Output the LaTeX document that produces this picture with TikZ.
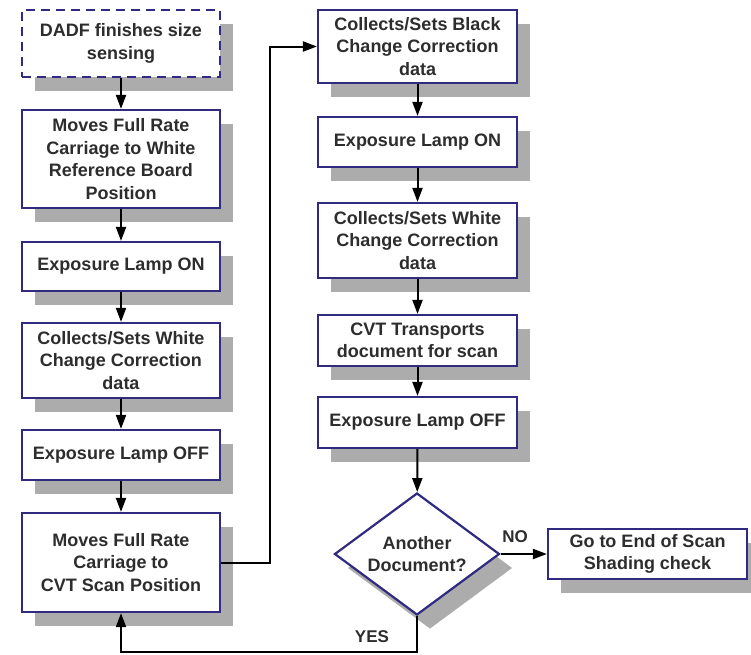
\documentclass[tikz,border=0pt]{standalone}
\usepackage{fontspec}
\setmainfont{Liberation Sans}
\usetikzlibrary{arrows.meta,shapes.geometric,shadows}

\definecolor{boxblue}{RGB}{48,42,128}
\definecolor{shadowgray}{RGB}{172,172,172}
\definecolor{textgray}{RGB}{45,45,45}

\begin{document}
\begin{tikzpicture}[
        x=1pt, y=-1pt,
        stepbox/.style={
            draw=boxblue,
            line width=2.2pt,
            fill=white,
            inner sep=0pt,
            align=center,
            text=textgray,
            font=\fontsize{18}{22.5}\selectfont\bfseries,
            drop shadow={shadow xshift=13pt, shadow yshift=-14pt,
                fill=shadowgray, opacity=1}
        },
        startbox/.style={
            stepbox,
            dash pattern=on 9pt off 6pt
        },
        decision/.style={
            stepbox,
            diamond,
            aspect=1.35
        },
        flow/.style={
            -{Triangle[length=14pt,width=10pt]},
            line width=2pt,
            black
        },
        answer/.style={
            text=textgray,
            font=\fontsize{17}{21}\selectfont\bfseries
        }
    ]

    \useasboundingbox (0,0) rectangle (751,654);

    % ---------------------------------------------------------
    % Left column
    % ---------------------------------------------------------
    \node[startbox, minimum width=198pt, minimum height=67pt] (dadf)
        at (121,43.5) {DADF finishes size\\sensing};
    \node[stepbox, minimum width=198pt, minimum height=98pt] (moveWhite)
        at (121,159) {Moves Full Rate\\Carriage to White\\Reference Board\\Position};
    \node[stepbox, minimum width=198pt, minimum height=49pt] (lampOnA)
        at (121,266.5) {Exposure Lamp ON};
    \node[stepbox, minimum width=198pt, minimum height=75pt] (whiteA)
        at (121,360.5) {Collects/Sets White\\Change Correction\\data};
    \node[stepbox, minimum width=198pt, minimum height=50pt] (lampOffA)
        at (121,455) {Exposure Lamp OFF};
    \node[stepbox, minimum width=198pt, minimum height=99pt] (moveCvt)
        at (121,562.5) {Moves Full Rate\\Carriage to\\CVT Scan Position};

    % ---------------------------------------------------------
    % Right column
    % ---------------------------------------------------------
    \node[stepbox, minimum width=199pt, minimum height=73pt] (blackB)
        at (417.5,46.5) {Collects/Sets Black\\Change Correction\\data};
    \node[stepbox, minimum width=199pt, minimum height=50pt] (lampOnB)
        at (417.5,142) {Exposure Lamp ON};
    \node[stepbox, minimum width=199pt, minimum height=75pt] (whiteB)
        at (417.5,240.5) {Collects/Sets White\\Change Correction\\data};
    \node[stepbox, minimum width=199pt, minimum height=51pt] (transport)
        at (417.5,340.5) {CVT Transports\\document for scan};
    \node[stepbox, minimum width=199pt, minimum height=51pt] (lampOffB)
        at (417.5,422.5) {Exposure Lamp OFF};

    % Decision and exit
    \node[decision, minimum width=165pt, minimum height=122pt] (another)
        at (417,554) {Another\\Document?};
    \node[stepbox, minimum width=199pt, minimum height=50pt] (endscan)
        at (647.5,554) {Go to End of Scan\\Shading check};

    % ---------------------------------------------------------
    % Connectors
    % ---------------------------------------------------------
    \draw[flow] (dadf) -- (moveWhite);
    \draw[flow] (moveWhite) -- (lampOnA);
    \draw[flow] (lampOnA) -- (whiteA);
    \draw[flow] (whiteA) -- (lampOffA);
    \draw[flow] (lampOffA) -- (moveCvt);

    \draw[flow] (moveCvt.east) -- ++(49,0) |- (blackB.west);

    \draw[flow] (blackB) -- (lampOnB);
    \draw[flow] (lampOnB) -- (whiteB);
    \draw[flow] (whiteB) -- (transport);
    \draw[flow] (transport) -- (lampOffB);
    \draw[flow] (lampOffB) -- (another);

    % NO branch
    \draw[flow] (another.east) -- (endscan.west);
    \node[answer] (no) at (515,537) {NO};

    % YES loop back
    \draw[flow] (another.south) -- ++(0,36) -| (moveCvt.south);
    \node[answer] (yes) at (372,637) {YES};

\end{tikzpicture}
\end{document}
